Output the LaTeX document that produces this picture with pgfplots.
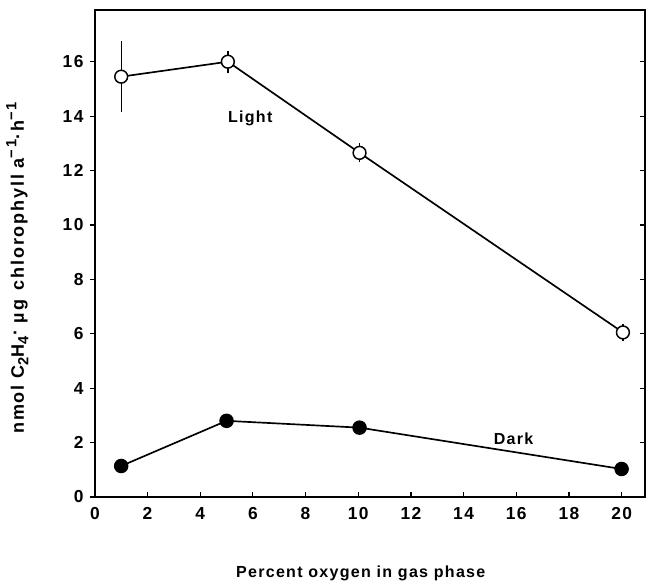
\documentclass[border=0pt]{standalone}
\usepackage{pgfplots}
\pgfplotsset{compat=1.18}
\usepackage{fontspec}
\setmainfont{Liberation Sans}
\newcommand{\lab}{\fontsize{12}{14}\selectfont\bfseries\addfontfeature{LetterSpace=8}}
\newcommand{\tlab}{\fontsize{13}{15}\selectfont\bfseries\addfontfeature{LetterSpace=8}}
\newcommand{\ylab}{\fontsize{13.5}{16}\selectfont\bfseries\addfontfeature{LetterSpace=10}}
\newcommand{\mysub}[1]{\raisebox{-3.4pt}{\fontsize{11}{13}\selectfont #1}}
\newcommand{\mysup}[1]{\raisebox{5.5pt}{\fontsize{11}{13}\selectfont #1}}
\begin{document}
\begin{tikzpicture}
\pgfplotsset{
  common/.style={
    scale only axis, width=412pt, height=364.5pt,
    xmin=0, xmax=20.9, ymin=0, ymax=17.9,
    xtick={0,2,...,20}, ytick={0,2,...,16},
    major tick length=4pt,
    axis line style={line width=1.3pt},
    every tick/.style={line width=0.9pt, black},
    /pgf/number format/assume math mode=true,
    tick label style={font=\tlab},
  }
}
\begin{axis}[common,
  at={(0,0)}, anchor=south west,
  tick align=inside,
  xtick pos=bottom, ytick pos=right,
  yticklabels={},
  xticklabel style={yshift=-4pt},
  clip=false,
]
\addplot[black, line width=1.25pt, mark=*, mark size=4.8pt,
  mark options={fill=white, line width=1.1pt},
  error bars/.cd, y dir=both, y explicit, error bar style={line width=1pt},
  error mark=none]
  coordinates {
  (1.0,15.45) +- (0,1.3)
  (5.05,16.0) +- (0,0.4)
  (10.05,12.65) +- (0,0.35)
  (20.05,6.05) +- (0,0.3)
  };
\addplot[black, line width=1.25pt, mark=*, mark size=4.8pt,
  mark options={fill=black}]
  coordinates {
  (1.0,1.14)
  (5.0,2.8)
  (10.05,2.55)
  (20.0,1.03)
  };
\node[font=\lab] at (axis cs:5.9,13.9) {Light};
\node[font=\lab] at (axis cs:15.9,2.14) {Dark};
\node[font=\lab, anchor=center] at ([xshift=-7pt, yshift=-57pt]rel axis cs:0.5,0) {Percent oxygen in gas phase};
\node[font=\ylab, anchor=center, rotate=90] at ([xshift=-58pt, yshift=-11pt]rel axis cs:0,0.5)
  {nmol C\mysub{2}H\mysub{4}\raisebox{2pt}{·} µg\, chlorophyll a\mysup{−1}·h\mysup{−1}};
\end{axis}
\begin{axis}[common,
  at={(0,0)}, anchor=south west,
  tick align=outside,
  xtick=\empty, ytick pos=left,
  axis line style={draw=none},
  yticklabel style={xshift=-1pt},
]
\end{axis}
\pgfresetboundingbox
\path[use as bounding box] (-71pt,-64.5pt) rectangle (423pt,372pt);
\end{tikzpicture}
\end{document}
